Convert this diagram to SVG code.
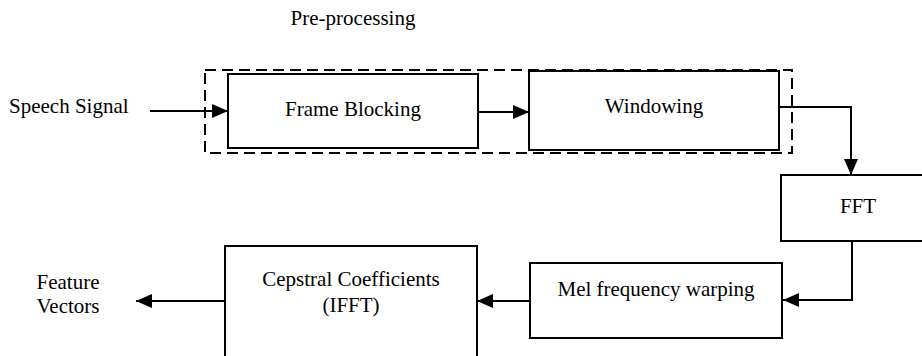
<svg xmlns="http://www.w3.org/2000/svg" width="922" height="356" viewBox="0 0 922 356">
<style>
  text { font-family: "Liberation Serif", "Times New Roman", serif; font-size: 21px; fill: #000; }
  .box { fill: #fff; stroke: #000; stroke-width: 2; }
  .dash { fill: none; stroke: #000; stroke-width: 2; stroke-dasharray: 11 6; }
  .conn { fill: none; stroke: #000; stroke-width: 2; marker-end: url(#arrow); }
</style>
<defs>
  <marker id="arrow" markerUnits="userSpaceOnUse" markerWidth="16" markerHeight="14" refX="16" refY="7" orient="auto">
    <path d="M0,0 L16,7 L0,14 Z" fill="#000"/>
  </marker>
</defs>
<rect width="922" height="356" fill="#fff"/>
<g id="preprocessing">
  <rect class="dash" x="205" y="70" width="587" height="83"/>
  <text x="353" y="25" text-anchor="middle">Pre-processing</text>
</g>
<g id="speech-signal">
  <text x="9" y="113">Speech Signal</text>
</g>
<g id="frame-blocking">
  <rect class="box" x="228" y="74" width="250" height="74"/>
  <text x="353" y="116" text-anchor="middle">Frame Blocking</text>
</g>
<g id="windowing">
  <rect class="box" x="529" y="71" width="250" height="79"/>
  <text x="654" y="113" text-anchor="middle">Windowing</text>
</g>
<g id="fft">
  <rect class="box" x="781" y="175" width="160" height="66"/>
  <text x="858" y="213" text-anchor="middle">FFT</text>
</g>
<g id="mel">
  <rect class="box" x="530" y="263" width="252" height="75"/>
  <text x="656" y="296" text-anchor="middle">Mel frequency warping</text>
</g>
<g id="cepstral">
  <rect class="box" x="225" y="246" width="252" height="130"/>
  <text x="351" y="286" text-anchor="middle">Cepstral Coefficients</text>
  <text x="351" y="312" text-anchor="middle">(IFFT)</text>
</g>
<g id="feature-vectors">
  <text x="68" y="289" text-anchor="middle">Feature</text>
  <text x="68" y="313" text-anchor="middle">Vectors</text>
</g>
<g id="connectors">
  <path class="conn" d="M150,111 H228"/>
  <path class="conn" d="M478,112 H529"/>
  <path class="conn" d="M779,107 H851 V175"/>
  <path class="conn" d="M852,241 V300 H783"/>
  <path class="conn" d="M530,301 H477"/>
  <path class="conn" d="M225,301 H136"/>
</g>
</svg>
